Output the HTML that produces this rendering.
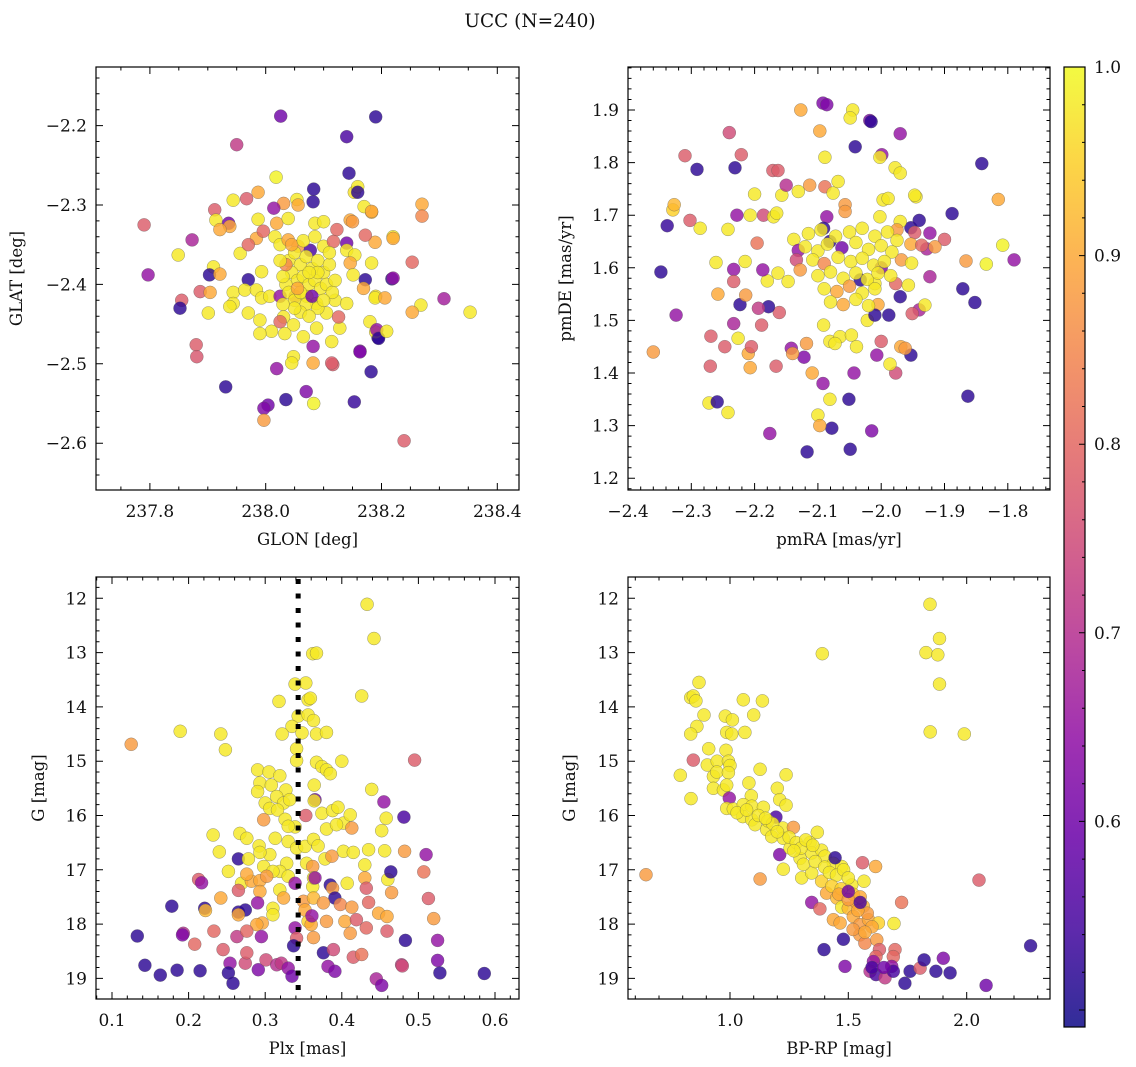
<!DOCTYPE html>
<html><head><meta charset="utf-8"><title>UCC (N=240)</title>
<style>
html,body{margin:0;padding:0;background:#fff;}
svg{display:block;font-family:"DejaVu Serif","Liberation Serif",serif;}
</style></head>
<body>
<svg id="fig" width="1136" height="1067" viewBox="0 0 1136 1067" xmlns="http://www.w3.org/2000/svg">
<rect width="1136" height="1067" fill="#fff"/>
<text x="530" y="27" font-size="18.5" text-anchor="middle" fill="#111">UCC (N=240)</text>
<defs>
<linearGradient id="plasmaGrad" x1="0" y1="1" x2="0" y2="0"></linearGradient>
</defs>
<g id="panels"></g>
</svg>
<script>
// ---------- Panel 1: GLON vs GLAT ----------
const p1Lon = [238.026,238.19,238.14,237.95,238.144,238.018,238.083,237.79,237.797,237.873,
237.849,237.855,237.852,237.88,237.881,237.931,238.004,237.997,237.997,238.035,
238.07,238.083,238.153,238.182,238.163,238.116,238.194,238.239,238.308,238.353,
238.268,238.253,238.27,238.27,238.253,238.218,238.22,238.19,238.183,238.17,
238.153,238.146,238.189,238.19,
238.082,238.159,238.159,237.944,237.967,237.987,238.031,238.054,238.056,237.912,
237.914,237.936,237.938,237.921,238.014,237.987,238.019,238.039,238.085,238.1,
238.123,238.14,238.15,238.172,238.183,238.22,237.984,237.996,238.016,237.956,
237.97,238.025,238.039,238.056,238.077,238.1,238.117,238.14,238.154,238.146,
238.183,237.91,237.903,237.921,237.97,237.993,237.887,237.904,237.944,237.964,
237.984,237.993,238.007,238.025,237.944,237.938,237.901,237.97,237.99,238.031,
238.025,238.048,238.033,238.01,237.99,238.051,238.071,238.088,238.105,238.12,
238.14,238.128,238.088,238.065,238.126,238.151,238.172,238.169,238.189,238.206,
238.22,238.18,238.192,238.195,238.209,238.114,238.082,238.163,238.048,238.045,
238.082,238.114,238.019,
238.04,238.05,238.06,238.07,238.08,238.09,238.1,238.11,238.045,238.055,
238.065,238.075,238.085,238.095,238.105,238.115,238.035,238.04,238.05,238.06,
238.07,238.08,238.09,238.1,238.06,238.075,238.05,238.045,238.065,238.085,
238.03,238.12,238.11,238.03,238.035,238.09,238.075,238.055,238.025];
const p1Lat = [-2.188,-2.189,-2.214,-2.224,-2.26,-2.265,-2.28,-2.325,-2.388,-2.344,
-2.363,-2.42,-2.43,-2.476,-2.491,-2.529,-2.552,-2.556,-2.571,-2.545,
-2.535,-2.55,-2.548,-2.51,-2.484,-2.501,-2.467,-2.597,-2.418,-2.435,
-2.426,-2.435,-2.299,-2.314,-2.372,-2.393,-2.34,-2.415,-2.309,-2.302,
-2.284,-2.319,-2.347,-2.46,
-2.296,-2.277,-2.284,-2.294,-2.292,-2.284,-2.298,-2.293,-2.3,-2.306,
-2.319,-2.323,-2.327,-2.331,-2.304,-2.318,-2.323,-2.317,-2.323,-2.321,
-2.331,-2.348,-2.321,-2.338,-2.308,-2.342,-2.342,-2.333,-2.34,-2.361,
-2.35,-2.35,-2.344,-2.352,-2.357,-2.352,-2.346,-2.357,-2.363,-2.373,
-2.373,-2.378,-2.388,-2.387,-2.394,-2.384,-2.409,-2.41,-2.41,-2.407,
-2.407,-2.417,-2.415,-2.415,-2.424,-2.428,-2.436,-2.436,-2.445,-2.441,
-2.447,-2.451,-2.462,-2.459,-2.462,-2.415,-2.415,-2.424,-2.436,-2.42,
-2.424,-2.455,-2.455,-2.466,-2.441,-2.388,-2.394,-2.405,-2.417,-2.417,
-2.392,-2.447,-2.457,-2.468,-2.459,-2.472,-2.478,-2.485,-2.491,-2.499,
-2.499,-2.499,-2.506,
-2.37,-2.36,-2.375,-2.365,-2.38,-2.37,-2.385,-2.375,-2.385,-2.395,
-2.39,-2.4,-2.395,-2.405,-2.4,-2.41,-2.4,-2.41,-2.42,-2.41,
-2.425,-2.415,-2.43,-2.42,-2.435,-2.44,-2.43,-2.35,-2.345,-2.34,
-2.39,-2.395,-2.36,-2.425,-2.375,-2.385,-2.385,-2.405,-2.37];
const p1Prob = [.6,.52,.55,.72,.52,.99,.52,.78,.65,.68,
.98,.78,.52,.78,.77,.52,.6,.62,.88,.52,
.62,.99,.53,.52,.62,.78,.52,.78,.67,.98,
.98,.9,.9,.85,.8,.52,.98,.97,.92,.98,
.97,.9,.9,.97,
.52,.98,.52,.98,.78,.9,.88,.98,.9,.78,
.98,.6,.9,.9,.65,.98,.9,.98,.98,.98,
.8,.6,.88,.8,.9,.9,.9,.8,.98,.98,
.8,.98,.9,.88,.55,.98,.8,.98,.98,.9,
.98,.98,.52,.9,.52,.98,.78,.9,.98,.98,
.98,.98,.98,.65,.98,.98,.98,.98,.98,.98,
.8,.98,.98,.98,.98,.78,.98,.98,.98,.98,
.98,.98,.98,.98,.8,.98,.52,.9,.98,.9,
.65,.98,.65,.52,.98,.98,.65,.62,.98,.98,
.9,.78,.65,
.98,.98,.98,.98,.98,.98,.98,.98,.98,.98,
.98,.98,.98,.98,.98,.98,.98,.98,.98,.98,
.98,.6,.98,.98,.98,.98,.98,.9,.98,.98,
.98,.98,.98,.98,.85,.98,.98,.9,.98];

// ---------- Panel 2: pmRA vs pmDE ----------
const p2RA = [-2.348,-2.338,-2.329,-2.327,-2.302,-2.36,-2.324,-2.31,-2.291,-2.286,
-2.269,-2.27,-2.272,-2.259,-2.242,-2.247,-2.258,-2.261,-2.24,-2.231,
-2.221,-2.223,-2.233,-2.233,-2.228,-2.207,-2.2,-2.171,-2.163,-2.127,
-2.097,-2.089,-2.092,-2.086,-2.045,-2.049,-2.018,-2.016,-2.041,-1.999,
-1.97,-1.945,-1.978,-2.002,-1.97,-1.928,-1.923,-1.9,-1.888,-1.866,
-1.841,-1.815,-1.808,-1.834,-1.79,-1.871,-1.852,-1.863,-1.94,-1.951,
-1.953,-1.977,-1.969,-1.986,-2.0,-2.022,-1.953,-1.94,-1.947,-1.953,
-2.0,-1.977,-1.988,-2.005,-2.01,-2.043,-2.051,-2.015,-2.049,-2.117,
-2.078,-2.176,-2.142,-2.122,-2.109,-2.092,-2.081,-2.1,-2.097,-2.161,
-2.166,-2.207,-2.21,-2.18,-2.081,
-2.242,-2.215,-2.196,-2.233,-2.214,-2.187,-2.163,-2.147,-2.178,-2.194,
-2.189,-2.226,-2.205,-2.186,-2.17,-2.165,-2.157,-2.131,-2.15,-2.113,
-2.089,-2.076,-2.068,-2.086,-2.057,-2.057,-2.138,-2.131,-2.134,-2.128,
-2.091,-2.081,-2.002,-1.997,-1.989,-1.97,-1.975,-1.947,-1.923,-1.936,
-1.915,-1.968,-1.952,-1.957,-1.931,-1.97,-2.033,-2.01,-2.091,-2.065,
-2.073,-2.047,-2.039,-2.118,-2.14,-2.007,-1.962,
-2.115,-2.095,-2.072,-2.05,-2.03,-2.01,-1.99,-1.975,
-2.12,-2.1,-2.085,-2.062,-2.04,-2.02,-2.0,-1.983,
-2.108,-2.09,-2.068,-2.048,-2.03,-2.012,-1.995,
-2.1,-2.08,-2.06,-2.04,-2.022,-2.005,-1.985,
-2.09,-2.07,-2.05,-2.03,-2.01,
-2.08,-2.06,-2.04,-2.02];
const p2DE = [1.592,1.68,1.71,1.72,1.69,1.44,1.51,1.813,1.787,1.675,
1.47,1.413,1.343,1.345,1.325,1.45,1.55,1.61,1.857,1.79,
1.815,1.53,1.494,1.597,1.7,1.7,1.74,1.785,1.785,1.9,
1.86,1.81,1.913,1.91,1.9,1.885,1.88,1.878,1.83,1.815,
1.855,1.735,1.79,1.81,1.78,1.636,1.583,1.654,1.703,1.613,
1.798,1.73,1.643,1.607,1.615,1.56,1.534,1.356,1.52,1.513,
1.434,1.4,1.45,1.417,1.46,1.5,1.676,1.69,1.667,1.645,
1.6,1.57,1.51,1.53,1.57,1.4,1.35,1.29,1.255,1.25,
1.295,1.285,1.447,1.43,1.4,1.38,1.35,1.32,1.3,1.515,
1.413,1.41,1.437,1.575,1.46,
1.673,1.612,1.647,1.574,1.548,1.596,1.59,1.574,1.526,1.523,
1.491,1.466,1.45,1.7,1.697,1.704,1.738,1.745,1.757,1.757,
1.754,1.742,1.764,1.697,1.72,1.707,1.654,1.633,1.615,1.596,
1.675,1.65,1.697,1.729,1.732,1.688,1.672,1.738,1.666,1.643,
1.64,1.615,1.609,1.567,1.529,1.545,1.577,1.51,1.491,1.469,
1.456,1.472,1.45,1.456,1.437,1.434,1.447,
1.665,1.672,1.66,1.668,1.675,1.66,1.668,1.652,
1.64,1.632,1.645,1.638,1.648,1.635,1.642,1.63,
1.615,1.608,1.62,1.612,1.618,1.605,1.612,
1.585,1.592,1.58,1.59,1.578,1.59,1.585,
1.56,1.555,1.565,1.552,1.56,
1.535,1.53,1.54,1.528];
const p2Prob = [.52,.53,.95,.92,.78,.88,.65,.78,.52,.98,
.78,.78,.98,.52,.98,.78,.9,.98,.75,.52,
.78,.52,.68,.65,.65,.98,.98,.78,.78,.9,
.9,.98,.62,.62,.98,.98,.62,.52,.52,.65,
.65,.98,.98,.98,.98,.68,.68,.78,.52,.88,
.52,.9,.99,.99,.65,.52,.52,.52,.68,.78,
.52,.75,.9,.98,.78,.98,.52,.52,.78,.9,
.62,.8,.52,.9,.98,.65,.52,.62,.52,.52,
.52,.65,.65,.62,.9,.65,.98,.98,.9,.78,
.78,.9,.9,.98,.98,
.98,.98,.82,.78,.88,.65,.98,.98,.52,.72,
.78,.98,.78,.75,.98,.98,.98,.98,.7,.88,
.82,.98,.98,.65,.88,.88,.98,.65,.75,.88,
.52,.52,.98,.98,.98,.98,.88,.98,.65,.8,
.88,.88,.98,.98,.98,.52,.52,.52,.98,.98,
.98,.98,.98,.88,.88,.65,.88,
.98,.98,.98,.98,.98,.98,.98,.98,
.98,.98,.98,.6,.98,.98,.98,.98,
.98,.85,.98,.98,.98,.98,.98,
.98,.98,.98,.98,.98,.98,.98,
.98,.9,.88,.98,.98,
.98,.9,.98,.98];

// ---------- Panel 3: Plx vs G ----------
const p3Plx = [.433,.442,.362,.367,.339,.353,.318,.356,.359,.426,
.343,.356,.363,.335,.348,.322,.367,.38,.242,.248,
.189,.125,.341,.341,.367,.374,.38,.385,.4,.29,
.305,.319,.293,.308,.327,.29,.364,.439,.495,.3,
.315,.324,.332,.306,.316,.365,.364,.455,.481,.458,
.452,.298,.353,.326,.339,.33,.374,.388,.395,.402,
.411,.413,.38,.393,.267,.276,.232,.24,.252,.313,
.33,.341,.352,.363,.369,.292,.306,.293,.402,.415,
.435,.456,.482,.51,.507,.378,.387,.265,.278,.298,
.354,.362,.328,.319,.33,.31,.43,.407,.46,.464,
.269,.282,.293,.302,.293,.213,.217,.265,.276,.319,
.324,.339,.362,.363,.365,.385,.388,.391,.43,.432,
.465,.242,.221,.222,.265,.274,.265,.29,.31,.31,
.296,.289,.35,.352,.363,.376,.356,.36,.361,.38,
.404,.411,.398,.413,.419,.432,.435,.448,.459,.459,
.483,.193,.208,.233,.245,.263,.276,.295,.339,.341,
.337,.363,.376,.389,.415,.426,.254,.274,.276,.215,
.252,.258,.291,.301,.315,.321,.33,.335,.382,.391,
.478,.445,.452,.133,.143,.163,.185,.178,.192,.528,
.586,.479,.525,.52,.525,.513];
const p3G = [12.11,12.74,13.02,13.01,13.58,13.56,13.9,13.87,13.84,13.8,
14.17,14.15,14.25,14.36,14.48,14.5,14.5,14.47,14.5,14.79,
14.45,14.69,14.77,14.99,15.02,15.1,15.16,15.23,15.0,15.16,
15.2,15.27,15.4,15.44,15.53,15.56,15.44,15.52,14.98,15.77,
15.65,15.77,15.71,15.87,15.9,15.71,15.73,15.75,16.03,16.05,
16.28,16.08,16.0,16.07,16.21,16.2,15.96,15.91,15.85,16.14,
15.99,16.23,16.25,16.17,16.33,16.42,16.36,16.67,17.03,16.42,
16.48,16.6,16.57,16.44,16.56,16.56,16.72,16.68,16.66,16.68,
16.63,16.65,16.66,16.72,17.04,16.8,16.75,16.8,16.8,16.94,
16.88,16.94,16.88,17.03,17.12,17.03,16.91,17.25,17.18,17.04,
17.25,17.21,17.2,17.12,17.4,17.18,17.24,17.38,17.08,17.37,
17.52,17.25,17.31,17.15,17.15,17.28,17.34,17.52,17.15,17.34,
17.42,17.52,17.71,17.75,17.78,17.74,17.83,17.61,17.71,17.83,
17.98,18.01,17.58,17.74,17.52,17.61,17.95,18.01,17.85,17.95,
17.95,18.17,17.64,17.69,17.92,18.07,17.6,17.8,17.86,18.13,
18.3,18.17,18.37,18.13,18.47,18.23,18.13,18.23,18.07,18.26,
18.4,18.25,18.53,18.47,18.61,18.56,18.72,18.72,18.53,18.86,
18.9,19.09,18.84,18.66,18.75,18.72,18.81,18.96,18.78,18.87,
18.75,19.01,19.13,18.22,18.76,18.94,18.85,17.67,18.2,18.9,
18.91,18.77,18.67,17.9,18.3,17.53];
const p3Prob = [.98,.98,.98,.98,.98,.98,.98,.98,.98,.98,
.98,.98,.98,.98,.98,.98,.98,.98,.98,.98,
.98,.88,.98,.98,.98,.98,.98,.98,.98,.98,
.98,.98,.98,.98,.98,.98,.98,.98,.78,.98,
.98,.98,.98,.98,.98,.6,.98,.65,.55,.98,
.98,.88,.78,.98,.98,.98,.98,.98,.98,.98,
.98,.88,.98,.98,.98,.98,.98,.98,.98,.98,
.98,.98,.98,.98,.98,.98,.98,.98,.98,.98,
.98,.98,.88,.65,.82,.98,.88,.52,.98,.98,
.98,.88,.98,.98,.98,.98,.98,.98,.98,.52,
.98,.9,.9,.88,.9,.78,.65,.78,.9,.98,
.9,.65,.98,.98,.65,.52,.88,.52,.9,.78,
.88,.9,.52,.92,.52,.52,.9,.65,.98,.98,
.9,.9,.88,.9,.92,.88,.95,.9,.65,.88,
.9,.88,.85,.88,.78,.8,.8,.9,.9,.78,
.52,.7,.8,.8,.78,.72,.8,.65,.65,.78,
.52,.88,.52,.75,.78,.82,.65,.75,.78,.52,
.52,.52,.62,.75,.7,.72,.65,.6,.65,.62,
.72,.68,.62,.52,.52,.52,.52,.52,.62,.52,
.52,.75,.62,.88,.65,.78];
const p3RefPlx = 0.343;

// ---------- Panel 4: BP-RP vs G ----------
const p4Col = [1.845,1.885,1.828,1.878,1.885,1.39,1.846,1.99,.869,.834,
.845,.856,1.056,1.137,.89,.98,1.01,1.1,.86,.834,
.986,1.007,1.063,.91,.983,.845,.79,.835,.904,.946,
.993,1.0,.93,.944,.993,.93,.972,.986,1.127,1.237,
1.08,1.09,1.2,1.21,1.237,.997,.986,1.014,1.056,1.092,
1.141,1.054,1.092,1.106,1.155,1.176,1.223,1.225,1.194,1.268,
1.21,1.225,1.254,1.296,1.338,1.369,1.345,1.387,1.401,1.303,
1.345,1.387,1.437,1.472,1.514,1.566,1.615,1.56,1.444,1.127,
.645,2.052,1.345,1.38,1.408,1.451,1.472,1.5,1.535,1.563,
1.437,1.465,1.521,1.549,1.585,1.627,1.693,1.725,1.479,1.397,
1.549,1.57,1.62,1.631,1.617,1.697,1.69,1.486,1.606,1.592,
1.617,1.655,1.683,1.69,1.739,1.761,1.803,1.82,1.87,1.901,
1.93,2.082,2.27,
1.25,1.28,1.3,1.32,1.35,1.27,1.31,1.36,1.4,1.42,
1.45,1.48,1.5,1.43,1.47,1.52,1.46,1.55,1.5,1.58,
1.54,1.6,1.52,1.57,1.12,1.16,1.03,1.07,1.18,1.2,
1.15,1.5,1.55,1.6,1.65];
const p4G = [12.11,12.74,13.0,13.04,13.58,13.02,14.46,14.5,13.55,13.83,
13.8,13.89,13.87,13.89,14.15,14.17,14.24,14.15,14.36,14.5,
14.47,14.5,14.47,14.77,14.8,14.98,15.26,15.69,15.07,15.0,
15.0,15.08,15.28,15.2,15.21,15.5,15.53,15.44,15.15,15.25,
15.4,15.64,15.5,15.71,15.81,15.68,15.87,15.88,15.8,15.83,
15.85,16.02,16.08,16.17,16.26,16.39,16.23,16.42,16.03,16.22,
16.72,16.99,16.6,16.79,16.5,16.31,16.69,16.64,16.75,17.15,
17.06,17.21,16.88,16.94,17.28,17.21,16.94,16.87,16.78,17.17,
17.09,17.19,17.6,17.72,17.43,17.52,17.69,17.71,17.61,17.67,
17.92,17.98,17.86,18.01,17.92,17.98,17.99,17.6,18.28,18.47,
18.2,18.35,18.29,18.47,18.6,18.47,18.6,18.78,18.69,18.87,
18.93,18.99,18.78,18.87,19.09,18.87,18.81,18.66,18.87,18.63,
18.9,19.13,18.4,
16.4,16.5,16.6,16.45,16.55,16.65,16.9,16.85,16.95,17.05,
17.1,17.0,17.15,17.3,17.35,17.45,17.45,17.5,17.55,17.8,
17.75,18.05,18.1,18.15,16.0,16.1,15.95,15.9,16.15,16.3,
16.05,17.4,17.6,18.8,18.8];
const p4Prob = [.98,.98,.98,.98,.98,.98,.98,.98,.98,.98,
.98,.98,.98,.98,.98,.98,.98,.98,.98,.98,
.98,.98,.98,.98,.98,.78,.98,.98,.98,.98,
.98,.98,.98,.98,.98,.98,.98,.98,.98,.98,
.98,.98,.98,.98,.98,.65,.98,.98,.98,.98,
.98,.98,.98,.98,.98,.98,.98,.98,.55,.88,
.62,.98,.98,.98,.98,.98,.98,.98,.98,.98,
.98,.95,.98,.98,.98,.98,.9,.78,.52,.88,
.88,.78,.65,.8,.9,.92,.98,.92,.9,.92,
.9,.9,.9,.88,.9,.95,.98,.82,.52,.52,
.88,.85,.88,.78,.8,.8,.8,.62,.65,.7,
.55,.72,.65,.55,.52,.52,.78,.52,.52,.62,
.52,.6,.52,
.98,.98,.98,.98,.98,.98,.98,.98,.98,.98,
.98,.98,.98,.95,.95,.95,.9,.9,.88,.88,
.9,.9,.88,.9,.98,.98,.98,.98,.98,.98,
.98,.6,.55,.55,.6];

// colorbar ticks
const cbTicks = [0.6,0.7,0.8,0.9,1.0];
const cbMin = 0.491, cbMax = 1.0;

const NS = "http://www.w3.org/2000/svg";
const root = document.getElementById('panels');
function mk(tag, attrs, parent){
  const e = document.createElementNS(NS, tag);
  for (const k in attrs) e.setAttribute(k, attrs[k]);
  (parent||root).appendChild(e);
  return e;
}
const stops = [[0,[13,8,135]],[0.1,[65,4,157]],[0.2,[106,0,168]],[0.3,[143,13,164]],[0.4,[177,42,144]],[0.5,[204,71,120]],[0.6,[225,100,98]],[0.7,[242,132,75]],[0.8,[252,166,54]],[0.9,[252,206,37]],[1,[240,249,33]]];
function plasma(t){
  t = Math.max(0, Math.min(1, t));
  for (let i=0;i<stops.length-1;i++){
    const a=stops[i], b=stops[i+1];
    if (t<=b[0]){
      const f=(t-a[0])/(b[0]-a[0]);
      const c=a[1].map((v,j)=>Math.round(v+(b[1][j]-v)*f));
      return 'rgb('+c.join(',')+')';
    }
  }
  return 'rgb(240,249,33)';
}
function pcol(p){ return plasma((p-cbMin)/(cbMax-cbMin)); }
function fmt(v, d){ const s = Math.abs(v).toFixed(d); return (v < -1e-9 ? '\u2212' : '') + s; }

const FS = 17;
function panel(cfg){
  const g = mk('g', {});
  
  
  const X = v => cfg.x0 + (v - cfg.xd[0])/(cfg.xd[1]-cfg.xd[0])*(cfg.x1-cfg.x0);
  const Y = v => cfg.y0 + (v - cfg.yd[0])/(cfg.yd[1]-cfg.yd[0])*(cfg.y1-cfg.y0);
  const pg = mk('g', {}, g);
  
  
  for (let i=0;i<cfg.xs.length;i++){
    const c = mk('circle', {cx:X(cfg.xs[i]).toFixed(1), cy:Y(cfg.ys[i]).toFixed(1), r:6.5, fill:pcol(cfg.ps[i]), 'fill-opacity':0.82, stroke:'#555', 'stroke-width':0.5, 'stroke-opacity':0.6}, pg);
    
    
  }
  if (cfg.extra) cfg.extra(g, X, Y);
  const fr = mk('rect', {x:cfg.x0, y:Math.min(cfg.y0,cfg.y1), width:cfg.x1-cfg.x0, height:Math.abs(cfg.y1-cfg.y0), fill:'none', stroke:'#000', 'stroke-width':1.2}, g);
  
  
  const top = Math.min(cfg.y0,cfg.y1), bot = Math.max(cfg.y0,cfg.y1);
  let d = '';
  const xlo = Math.min(...cfg.xd), xhi = Math.max(...cfg.xd);
  for (let k=Math.ceil(xlo/cfg.xmin-1e-6); k*cfg.xmin<=xhi+1e-9; k++){
    const v = k*cfg.xmin; const px = X(v);
    const isMaj = Math.abs(v/cfg.xmaj - Math.round(v/cfg.xmaj)) < 1e-6;
    const L = isMaj?7:3.5;
    d += `M${px.toFixed(1)} ${bot}v${-L}M${px.toFixed(1)} ${top}v${L}`;
    if (isMaj){
      const t = mk('text', {x:px.toFixed(1), y:bot+27, 'font-size':FS, 'text-anchor':'middle', fill:'#111'}, g);
      t.textContent = fmt(v, cfg.xdec);
      
      
    }
  }
  const ylo = Math.min(...cfg.yd), yhi = Math.max(...cfg.yd);
  for (let k=Math.ceil(ylo/cfg.ymin-1e-6); k*cfg.ymin<=yhi+1e-9; k++){
    const v = k*cfg.ymin; const py = Y(v);
    const isMaj = Math.abs(v/cfg.ymaj - Math.round(v/cfg.ymaj)) < 1e-6;
    const L = isMaj?7:3.5;
    d += `M${cfg.x0} ${py.toFixed(1)}h${L}M${cfg.x1} ${py.toFixed(1)}h${-L}`;
    if (isMaj){
      const t = mk('text', {x:cfg.x0-9, y:(py+6).toFixed(1), 'font-size':FS, 'text-anchor':'end', fill:'#111'}, g);
      t.textContent = fmt(v, cfg.ydec);
      
      
    }
  }
  const tk = mk('path', {d:d, stroke:'#000', 'stroke-width':1, fill:'none'}, g);
  
  
  const xt = mk('text', {x:(cfg.x0+cfg.x1)/2, y:bot+55, 'font-size':16.5, 'text-anchor':'middle', fill:'#111'}, g);
  xt.textContent = cfg.xlabel;
  
  
  const cy = (top+bot)/2;
  const yt = mk('text', {x:cfg.ylx, y:cy, 'font-size':16.5, 'text-anchor':'middle', fill:'#111', transform:`rotate(-90 ${cfg.ylx} ${cy})`}, g);
  yt.textContent = cfg.ylabel;
  
  
}

panel({name:'glon-glat-panel', x0:96, x1:519, y0:67, y1:490, xd:[237.707,238.4375], yd:[-2.1262,-2.6589],
  xs:p1Lon, ys:p1Lat, ps:p1Prob, xmaj:0.2, xmin:0.05, ymaj:0.1, ymin:0.02, xdec:1, ydec:1,
  xlabel:'GLON [deg]', ylabel:'GLAT [deg]', ylx:22});
panel({name:'pm-panel', x0:628, x1:1050, y0:67, y1:490, xd:[-2.4,-1.7333], yd:[1.9817,1.1776],
  xs:p2RA, ys:p2DE, ps:p2Prob, xmaj:0.1, xmin:0.02, ymaj:0.1, ymin:0.02, xdec:1, ydec:1,
  xlabel:'pmRA [mas/yr]', ylabel:'pmDE [mas/yr]', ylx:571});
panel({name:'plx-g-panel', x0:96, x1:519, y0:577, y1:999, xd:[0.0791,0.6313], yd:[11.608,19.38],
  xs:p3Plx, ys:p3G, ps:p3Prob, xmaj:0.1, xmin:0.02, ymaj:1, ymin:0.2, xdec:1, ydec:0,
  xlabel:'Plx [mas]', ylabel:'G [mag]', ylx:44,
  extra:(g,X,Y)=>{
    const l = mk('line', {x1:X(p3RefPlx), x2:X(p3RefPlx), y1:579, y2:999, stroke:'#000', 'stroke-width':5, 'stroke-dasharray':'5 9.5'}, g);
    
    
  }});
panel({name:'cmd-panel', x0:628, x1:1050, y0:577, y1:999, xd:[0.569,2.352], yd:[11.608,19.38],
  xs:p4Col, ys:p4G, ps:p4Prob, xmaj:0.5, xmin:0.1, ymaj:1, ymin:0.2, xdec:1, ydec:0,
  xlabel:'BP-RP [mag]', ylabel:'G [mag]', ylx:575});

(function(){
  const grad = document.getElementById('plasmaGrad');
  for (let i=0;i<=20;i++){
    const f=i/20;
    const s = document.createElementNS(NS,'stop');
    s.setAttribute('offset', f);
    s.setAttribute('stop-color', pcol(cbMin + f*(cbMax-cbMin)));
    s.setAttribute('stop-opacity', 0.85);
    grad.appendChild(s);
  }
  const x0=1064, x1=1085, yT=67, yB=1027;
  const cg = mk('g', {});
  
  
  const r = mk('rect', {x:x0, y:yT, width:x1-x0, height:yB-yT, fill:'url(#plasmaGrad)', stroke:'#000', 'stroke-width':1.2}, cg);
  
  
  const CY = v => yB - (v-cbMin)/(cbMax-cbMin)*(yB-yT);
  let d='';
  for (let k=Math.ceil(cbMin/0.02); k*0.02<=cbMax+1e-9; k++){
    const v=k*0.02; const py=CY(v);
    const isMaj = Math.abs(v*10-Math.round(v*10))<1e-6;
    d += `M${x1} ${py.toFixed(1)}h${isMaj?-6:-3}`;
  }
  const p = mk('path', {d:d, stroke:'#000', 'stroke-width':1}, cg);
  
  
  cbTicks.forEach(v=>{
    const t = mk('text', {x:1094, y:(CY(v)+6).toFixed(1), 'font-size':FS, fill:'#111'}, cg);
    t.textContent = v.toFixed(1);
    
    
  });
})();
</script>
</body></html>
